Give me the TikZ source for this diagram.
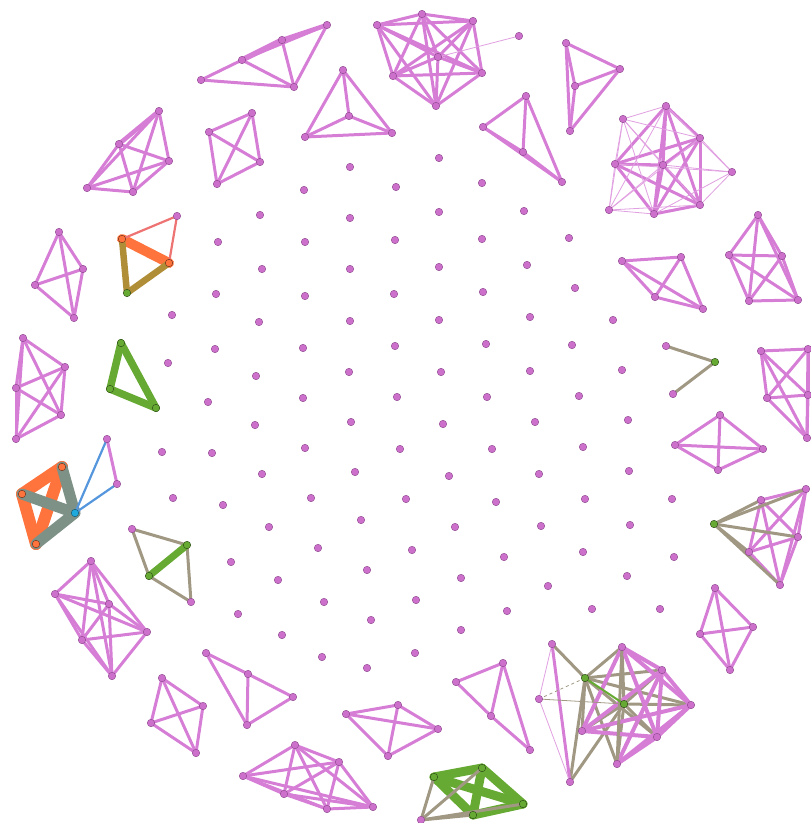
\documentclass[tikz,border=0pt]{standalone}
\usetikzlibrary{backgrounds}
\definecolor{nodepink}{RGB}{204,112,204}
\definecolor{nodeline}{RGB}{140,70,140}
\definecolor{edgepink}{RGB}{214,125,214}
\definecolor{lightpink}{RGB}{225,160,225}
\definecolor{tangray}{RGB}{160,152,130}
\definecolor{grn}{RGB}{102,170,51}
\definecolor{orng}{RGB}{255,115,60}
\definecolor{sgray}{RGB}{125,145,135}
\definecolor{olivec}{RGB}{176,142,56}
\definecolor{salmonc}{RGB}{238,115,115}
\definecolor{bluc}{RGB}{85,150,220}
\definecolor{cync}{RGB}{30,170,220}
\tikzset{
  pn/.style={circle,fill=nodepink,draw=nodeline,line width=0.4pt,inner sep=0pt,minimum size=7.5pt},
  gn/.style={pn,fill=grn,draw=black!60!grn},
  onode/.style={pn,fill=orng,draw=black!60!orng},
  cn/.style={pn,fill=cync,draw=black!50!cync},
  pe/.style={draw=edgepink,line width=3pt},
  pthick/.style={draw=edgepink,line width=4.5pt},
  pthin/.style={draw=lightpink,line width=0.8pt},
  te/.style={draw=tangray,line width=3pt},
  tthin/.style={draw=tangray,line width=0.8pt},
  gre/.style={draw=grn,line width=7pt,line cap=round},
  ore/.style={draw=orng,line width=12pt,line cap=round},
  sge/.style={draw=sgray,line width=11pt,line cap=round},
  ole/.style={draw=olivec,line width=6.5pt,line cap=round},
  sae/.style={draw=salmonc,line width=2.2pt},
  ble/.style={draw=bluc,line width=2.2pt}
}
\newcommand\kfull[3]{\foreach \i in {1,...,#2}{\foreach \j in {1,...,#2}{\ifnum\i<\j\relax\draw[#3] (#1\i.center) -- (#1\j.center);\fi}}}
\begin{document}
\begin{tikzpicture}[x=1pt,y=-1pt]
\useasboundingbox (0,0) rectangle (811,823);
% isolated dots
\foreach \x/\y [count=\k] in {350/167,439/158,304/190,396/187,482/183,260/215,350/218,439/212,524/211,218/242,305/242,395/240,482/239,569/238,262/269,350/269,439/267,527/265,216/294,305/296,394/294,483/292,575/288,172/315,259/322,350/321,439/320,530/317,613/320,215/349,303/348,395/346,486/344,572/345,168/363,256/376,349/372,441/372,530/371,622/370,208/402,303/398,397/397,487/397,579/396,255/425,351/422,443/424,535/422,628/420,162/452,212/453,305/448,400/449,492/449,583/447,262/474,355/472,449/476,539/474,629/471,173/498,223/505,311/498,406/499,496/502,585/499,672/499,269/527,361/520,455/527,541/526,630/525,318/548,412/550,504/557,583/552,674/557,231/562,278/580,367/570,461/578,548/586,627/576,324/602,416/600,507/611,592/609,660/609,238/614,371/620,461/630,282/635,322/657,415/653,367/668}
  {\node[pn] (iso\k) at (\x,\y) {};}
% cluster nodes (pink)
\foreach \n/\x/\y in {A1/159/111,A2/119/144,A3/169/161,A4/87/188,A5/133/192,
  B1/209/132,B2/252/113,B3/260/162,B4/217/184,
  C1/201/80,C2/242/60,C3/282/40,C4/327/25,C5/294/87,
  D1/343/70,D2/349/116,D3/305/137,D4/392/133,
  E1/377/25,E2/422/14,E3/473/21,E4/438/57,E5/393/76,E6/482/73,E7/436/106,E8/519/36,
  F1/526/96,F2/483/127,F3/523/152,F4/562/182,
  G1/566/43,G2/620/69,G3/575/86,G4/570/131,
  H1/666/106,H2/623/119,H3/700/138,H4/615/164,H5/663/165,H6/732/172,H7/609/210,H8/654/214,H9/700/205,
  I1/622/261,I2/681/257,I3/655/297,I4/703/309,
  J1/758/215,J2/729/255,J3/782/256,J4/749/301,J5/798/300,
  K1/761/351,K2/808/349,K3/767/398,K4/808/395,K5/807/438,
  V1/666/346,V3/673/394,
  L1/720/415,L2/675/445,L3/763/449,L4/718/470,
  M1/761/500,M2/806/489,M3/798/537,M4/749/552,M5/780/585,
  N1/715/588,N2/700/634,N3/753/627,N4/730/670,
  O1/552/644,O2/622/647,O3/662/670,O6/691/705,O7/539/699,O8/582/731,O9/657/737,O10/617/764,O11/570/782,
  P5/421/820,
  Q1/346/714,Q2/398/705,Q3/438/729,Q4/388/756,
  R1/456/682,R2/503/663,R3/491/716,R4/530/750,
  S1/295/745,S2/339/762,S3/243/776,S4/284/794,S5/327/809,S6/373/807,
  T1/206/653,T2/248/674,T3/247/725,T4/293/697,
  U1/162/678,U2/203/706,U3/151/723,U4/196/753,
  BL1/91/561,BL2/55/594,BL3/109/604,BL4/82/640,BL5/147/632,BL6/112/676,
  W5/107/439,W6/117/484,
  X1/132/529,X4/191/602,
  Z4/177/216,
  AA1/59/232,AA2/83/269,AA3/35/285,AA4/74/318,
  AB1/23/338,AB2/65/367,AB3/16/388,AB4/61/415,AB5/16/439}
  {\node[pn] (\n) at (\x,\y) {};}
% coloured nodes
\foreach \n/\x/\y in {V2/715/362,M0/714/524,O4/585/678,O5/624/704,P1/434/777,P2/482/768,P3/523/804,P4/473/815,X2/187/545,X3/149/576,Y1/121/343,Y2/110/389,Y3/156/408,Z3/127/293}
  {\node[gn] (\n) at (\x,\y) {};}
\foreach \n/\x/\y in {W1/62/467,W2/22/494,W3/36/544,Z1/122/239,Z2/169/263}
  {\node[onode] (\n) at (\x,\y) {};}
\node[cn] (W4) at (75,513) {};
% edges
\begin{scope}[on background layer]
\kfull{A}{5}{pe}
\draw[pthick] (A1.center) -- (A2.center);
\kfull{B}{4}{pe}
\foreach \a/\b in {C1/C2,C2/C4,C2/C5,C3/C5,C4/C5,C1/C5} {\draw[pe] (\a.center) -- (\b.center);}
\draw[pthick,line width=5.5pt] (C2.center) -- (C3.center);
\draw[pthick] (C3.center) -- (C4.center);
\kfull{D}{4}{pe}
\kfull{E}{7}{pe}
\draw[pthin] (E4.center) -- (E8.center);
\kfull{F}{4}{pe}
\kfull{G}{4}{pe}
\foreach \a/\b in {H1/H3,H1/H4,H1/H5,H1/H8,H1/H9,H3/H4,H3/H5,H3/H8,H3/H9,H4/H5,H4/H8,H4/H9,H5/H8,H5/H9,H8/H9} {\draw[pe] (\a.center) -- (\b.center);}
\foreach \a/\b in {H2/H1,H2/H3,H2/H4,H2/H5,H2/H7,H2/H8,H2/H9,H6/H1,H6/H3,H6/H4,H6/H5,H6/H8,H6/H9,H7/H4,H7/H5,H7/H8,H7/H9,H7/H1,H7/H3} {\draw[pthin] (\a.center) -- (\b.center);}
\kfull{I}{4}{pe}
\kfull{J}{5}{pe}
\kfull{K}{5}{pe}
\draw[te] (V1.center) -- (V2.center);
\draw[te] (V2.center) -- (V3.center);
\kfull{L}{4}{pe}
\kfull{M}{5}{pe}
\foreach \b in {M1,M2,M3,M4,M5} {\draw[te] (M0.center) -- (\b.center);}
\kfull{N}{4}{pe}
\foreach \b in {O1,O2,O3,O6,O8,O9,O10,O11} {\draw[te] (O4.center) -- (\b.center);}
\foreach \b in {O2,O3,O6,O8,O9,O10,O11} {\draw[te] (O5.center) -- (\b.center);}
\foreach \a/\b in {O2/O3,O2/O6,O2/O8,O3/O6,O3/O8,O3/O9,O3/O10,O6/O8,O6/O9,O6/O10,O8/O9,O9/O10,O2/O9} {\draw[pthick,line width=4pt] (\a.center) -- (\b.center);}
\draw[pe] (O1.center) -- (O11.center);
\draw[pthin] (O7.center) -- (O1.center);
\draw[pthin] (O7.center) -- (O11.center);
\draw[te] (O2.center) -- (O10.center);
\draw[tthin,dashed] (O4.center) -- (O7.center);
\draw[tthin] (O7.center) -- (O5.center);
\draw[draw=grn,line width=2pt] (O4.center) -- (O5.center);
\foreach \a/\b in {P1/P2,P1/P3,P1/P4,P2/P3,P2/P4,P3/P4} {\draw[gre,line width=9pt] (\a.center) -- (\b.center);}
\foreach \b in {P1,P2,P3,P4} {\draw[te] (P5.center) -- (\b.center);}
\kfull{Q}{4}{pe}
\foreach \a/\b in {R1/R2,R1/R3,R3/R4,R2/R3,R2/R4} {\draw[pe] (\a.center) -- (\b.center);}
\kfull{S}{6}{pe}
\foreach \a/\b in {T1/T2,T1/T3,T2/T3,T2/T4,T3/T4} {\draw[pe] (\a.center) -- (\b.center);}
\kfull{U}{4}{pe}
\kfull{BL}{6}{pe}
\foreach \a/\b in {W1/W2,W2/W3,W1/W3} {\draw[ore] (\a.center) -- (\b.center);}
\foreach \a in {W1,W2,W3} {\draw[sge] (\a.center) -- (W4.center);}
\draw[ble] (W4.center) -- (W5.center);
\draw[ble] (W4.center) -- (W6.center);
\draw[pe] (W5.center) -- (W6.center);
\foreach \a/\b in {X1/X2,X1/X3,X2/X4,X3/X4} {\draw[te] (\a.center) -- (\b.center);}
\draw[gre] (X3.center) -- (X2.center);
\foreach \a/\b in {Y1/Y2,Y2/Y3,Y3/Y1} {\draw[gre,line width=7.5pt] (\a.center) -- (\b.center);}
\draw[ore,line width=10pt] (Z1.center) -- (Z2.center);
\draw[ole] (Z1.center) -- (Z3.center);
\draw[ole] (Z3.center) -- (Z2.center);
\draw[sae] (Z1.center) -- (Z4.center);
\draw[sae] (Z4.center) -- (Z2.center);
\kfull{AA}{4}{pe}
\kfull{AB}{5}{pe}
\end{scope}
\end{tikzpicture}
\end{document}
